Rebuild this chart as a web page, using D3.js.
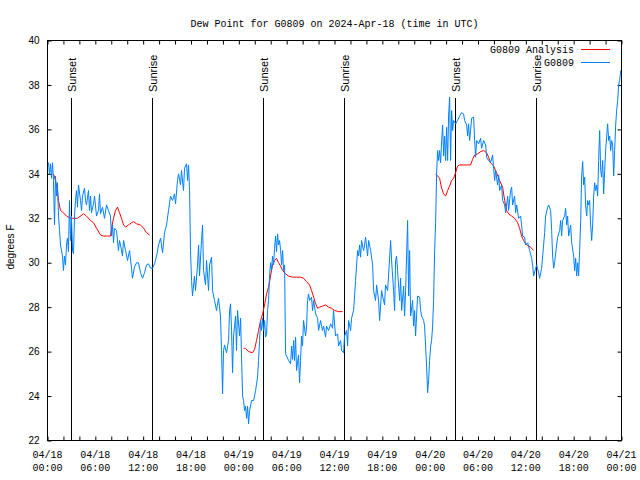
<!DOCTYPE html>
<html><head><meta charset="utf-8">
<script src="https://cdn.jsdelivr.net/npm/d3@7"></script>
<style>body{margin:0;background:#fff}</style>
</head><body><svg id="c" width="640" height="480"></svg>
<script>
const title = "Dew Point for G0809 on 2024-Apr-18 (time in UTC)";
const yLabel = "degrees F";
const seriesNames = ["G0809 Analysis", "G0809"];
const seriesColors = ["#ff0000", "#0080ff"];
const startUTC = Date.UTC(2024, 3, 18, 0, 0);
const xDomainHours = [0, 72];
const yDomain = [22, 40];
const yTicks = [22, 24, 26, 28, 30, 32, 34, 36, 38, 40];
const xLabelHours = [0, 6, 12, 18, 24, 30, 36, 42, 48, 54, 60, 66, 72];
const xMinorHours = d3.range(0, 73, 2);
const eventHours = [2.92, 13.17, 27.0, 37.17, 51.1, 61.27];
const eventLabels = ["Sunset", "Sunrise", "Sunset", "Sunrise", "Sunset", "Sunrise"];

// observed [hour offset, dew point F]
const observed = [
[0,34.4],[0.13,34.5],[0.25,34.0],[0.38,34.45],[0.5,33.8],[0.63,34.5],[0.75,33.7],[0.88,31.7],[1.0,33.9],[1.13,33.0],
[1.25,33.6],[1.38,32.1],[1.51,31.45],[1.63,30.8],[1.88,30.3],[2.0,29.65],[2.13,30.3],[2.26,29.9],[2.38,30.8],[2.5,31.1],
[2.63,30.5],[2.76,32.8],[2.89,31.0],[3.0,32.1],[3.14,30.55],[3.26,30.4],[3.39,32.1],[3.51,32.8],[3.64,33.25],[3.76,32.5],
[3.89,33.5],[4.14,32.8],[4.27,32.35],[4.39,33.0],[4.64,33.35],[4.77,32.8],[4.89,32.6],[5.14,33.25],[5.27,32.35],[5.4,33.0],
[5.52,32.25],[5.77,32.65],[5.9,33.0],[6.15,32.1],[6.4,32.35],[6.52,33.1],[6.65,32.2],[6.9,32.5],[7.15,32.0],[7.4,32.6],
[7.65,32.35],[7.9,32.1],[8.03,31.2],[8.16,31.7],[8.28,30.9],[8.4,31.55],[8.66,31.45],[8.9,30.55],[9.03,31.0],[9.16,30.8],
[9.4,30.3],[9.54,31.0],[9.79,30.55],[10.04,30.1],[10.29,30.55],[10.54,29.75],[10.66,29.3],[10.9,29.8],[11.17,30.0],[11.42,30.0],
[11.67,29.55],[11.92,29.3],[12.17,29.55],[12.42,29.9],[12.67,29.95],[12.92,29.75],[13.17,29.75],[13.43,29.95],[13.68,30.3],[13.93,30.8],
[14.18,31.1],[14.43,30.45],[14.68,31.35],[14.93,31.7],[15.18,32.35],[15.43,33.0],[15.68,32.8],[15.93,33.1],[16.06,32.65],[16.31,33.7],
[16.44,34.0],[16.69,33.5],[16.81,34.15],[17.06,33.25],[17.19,34.25],[17.44,34.45],[17.57,33.7],[17.69,34.4],[17.82,33.25],[17.94,30.55],
[18.07,29.2],[18.19,28.5],[18.44,29.4],[18.57,28.75],[18.82,29.9],[18.95,30.8],[19.07,29.4],[19.32,31.0],[19.45,31.7],[19.57,29.65],
[19.82,29.0],[19.95,30.1],[20.2,28.75],[20.33,29.9],[20.58,30.25],[20.7,28.75],[20.95,28.3],[21.2,27.85],[21.45,28.4],[21.7,27.6],
[21.83,26.05],[21.96,24.1],[22.08,26.05],[22.21,26.3],[22.46,25.95],[22.71,26.5],[22.84,27.85],[22.96,28.15],[23.09,26.95],[23.21,25.05],
[23.34,26.7],[23.59,27.6],[23.71,26.05],[23.84,27.85],[24.09,26.7],[24.22,27.5],[24.34,25.8],[24.47,24.0],[24.59,23.8],[24.72,23.35],
[24.84,23.55],[24.97,23.0],[25.1,23.55],[25.22,22.75],[25.35,23.35],[25.6,23.8],[25.85,23.8],[25.97,24.0],[26.1,24.25],[26.35,24.85],
[26.47,25.6],[26.6,26.5],[26.73,27.4],[26.85,26.95],[26.98,27.5],[27.1,26.95],[27.23,27.4],[27.35,26.65],[27.48,26.8],[27.6,27.85],
[27.73,28.3],[27.85,29.4],[27.98,30.0],[28.1,29.65],[28.23,30.3],[28.36,29.9],[28.48,30.65],[28.61,31.2],[28.73,30.5],[28.86,31.3],
[28.98,30.8],[29.11,31.0],[29.24,30.55],[29.36,29.9],[29.49,30.55],[29.61,29.65],[29.74,29.9],[29.86,25.9],[29.99,25.8],[30.24,25.6],
[30.49,25.45],[30.62,26.25],[30.74,25.65],[30.87,26.5],[30.99,25.6],[31.12,26.65],[31.24,25.15],[31.49,25.85],[31.62,24.6],[31.74,25.6],
[31.87,26.7],[31.99,26.25],[32.12,27.4],[32.37,26.7],[32.5,27.15],[32.62,28.3],[32.75,28.6],[32.87,28.3],[33.12,28.45],[33.25,27.85],
[33.38,28.3],[33.63,27.7],[33.88,27.5],[34.0,26.95],[34.25,27.4],[34.5,26.95],[34.63,27.15],[34.88,26.65],[35.0,27.15],[35.26,26.95],
[35.51,27.25],[35.76,27.05],[35.88,27.85],[36.13,26.7],[36.39,26.8],[36.51,26.25],[36.76,26.5],[36.89,26.05],[37.14,25.95],[37.26,26.7],
[37.52,26.95],[37.64,26.25],[37.77,27.4],[38.02,26.95],[38.14,27.5],[38.39,27.85],[38.52,28.5],[38.64,29.2],[38.77,29.9],[38.9,30.55],
[39.02,30.3],[39.15,30.8],[39.27,30.25],[39.4,31.0],[39.65,30.55],[39.77,30.8],[39.9,31.15],[40.15,30.3],[40.28,31.0],[40.53,30.55],
[40.78,29.9],[40.9,28.75],[41.15,28.3],[41.28,29.0],[41.53,28.3],[41.66,27.4],[41.91,28.75],[42.03,28.5],[42.28,28.1],[42.4,29.0],
[42.66,28.75],[42.78,29.4],[43.04,31.0],[43.16,30.1],[43.41,28.75],[43.54,27.85],[43.66,30.1],[43.79,30.3],[43.91,29.65],[44.17,28.3],
[44.29,29.3],[44.42,27.85],[44.67,28.95],[44.79,27.6],[44.92,28.75],[45.17,31.9],[45.3,28.5],[45.42,30.55],[45.55,27.6],[45.8,28.3],
[45.92,27.15],[46.05,27.85],[46.17,26.7],[46.42,28.5],[46.68,28.45],[46.8,27.85],[46.93,27.6],[47.18,27.4],[47.3,27.15],[47.43,26.25],
[47.55,25.35],[47.68,24.15],[47.8,24.7],[47.93,25.6],[48.06,26.25],[48.18,26.5],[48.31,27.15],[48.43,28.3],[48.56,30.55],[48.68,31.75],
[48.81,34.0],[48.93,35.05],[49.06,34.6],[49.18,35.05],[49.31,34.5],[49.44,35.5],[49.56,36.2],[49.69,34.8],[49.81,35.7],[49.94,34.6],
[50.06,36.1],[50.19,34.6],[50.31,36.6],[50.44,37.45],[50.56,34.6],[50.69,36.85],[50.82,35.95],[50.94,36.4],[51.19,36.25],[51.44,36.4],
[51.69,36.6],[51.94,36.75],[52.19,36.7],[52.32,36.4],[52.57,36.2],[52.7,35.7],[52.82,36.25],[52.95,35.5],[53.07,35.95],[53.2,36.5],
[53.45,36.55],[53.58,35.5],[53.7,34.75],[53.83,35.5],[54.08,35.35],[54.33,35.6],[54.45,35.15],[54.71,35.5],[54.96,35.3],[55.08,34.75],
[55.33,34.6],[55.58,34.5],[55.83,34.85],[55.96,34.25],[56.09,33.7],[56.21,34.15],[56.46,33.5],[56.59,33.95],[56.71,33.25],[56.96,33.5],
[57.09,32.8],[57.34,32.6],[57.47,32.25],[57.72,33.0],[57.84,32.35],[58.09,33.25],[58.22,33.4],[58.34,32.6],[58.59,33.0],[58.72,32.25],
[58.85,32.6],[59.1,32.0],[59.35,32.1],[59.47,31.7],[59.6,31.2],[59.85,31.15],[59.97,30.8],[60.23,30.9],[60.48,30.55],[60.73,30.2],
[60.85,29.9],[60.98,29.4],[61.23,29.75],[61.36,29.9],[61.61,29.55],[61.73,29.3],[61.98,29.75],[62.23,30.8],[62.36,31.35],[62.48,32.1],
[62.74,32.5],[62.86,32.6],[63.11,32.35],[63.24,31.45],[63.36,30.3],[63.49,29.75],[63.61,30.0],[63.86,30.8],[63.99,31.15],[64.24,31.45],
[64.37,31.9],[64.49,31.2],[64.62,31.9],[64.87,32.1],[64.99,32.45],[65.12,31.7],[65.24,32.1],[65.37,31.2],[65.62,31.7],[65.75,30.9],
[66.0,30.3],[66.12,29.65],[66.25,30.2],[66.37,29.4],[66.5,30.0],[66.62,29.4],[66.75,30.55],[66.88,31.9],[67.0,33.9],[67.13,34.55],
[67.25,33.5],[67.38,33.85],[67.5,32.6],[67.63,32.1],[67.75,32.8],[67.88,32.6],[68.0,32.8],[68.13,31.7],[68.26,31.0],[68.38,31.7],
[68.51,33.0],[68.63,33.6],[68.76,33.25],[68.88,33.5],[69.01,33.0],[69.13,34.6],[69.26,35.95],[69.39,34.15],[69.51,33.85],[69.64,34.6],
[69.76,33.1],[69.89,34.15],[70.01,35.05],[70.14,35.7],[70.26,36.25],[70.39,35.5],[70.52,35.7],[70.64,35.05],[70.77,35.5],[70.89,35.3],
[71.02,33.9],[71.14,35.05],[71.27,36.2],[71.39,36.85],[71.52,37.3],[71.64,38.0],[71.77,38.2],[71.9,38.65]
];

// analysis [hour offset, dew point F]; null = gap
const analysis = [
[0.75,34.0],[1.0,33.7],[1.25,33.25],[1.38,32.8],[1.63,32.35],[2.0,32.25],[2.38,32.1],[2.89,32.0],[3.39,32.0],[3.76,32.0],
[4.14,32.1],[4.52,32.2],[4.89,32.1],[5.4,31.9],[5.77,31.8],[6.15,31.55],[6.65,31.25],[7.03,31.2],[7.53,31.2],[7.9,31.2],
[8.03,31.55],[8.28,32.0],[8.53,32.35],[8.78,32.5],[9.03,32.25],[9.28,32.0],[9.54,31.7],[9.79,31.6],[10.16,31.7],[10.54,31.8],
[10.79,31.85],[11.17,31.75],[11.67,31.7],[12.05,31.55],[12.42,31.35],[12.8,31.25],
null,
[24.59,26.15],[24.84,26.15],[25.22,26.0],[25.72,25.95],[25.97,26.1],[26.22,26.5],[26.47,26.95],[26.73,27.4],[26.98,27.7],[27.23,28.1],
[27.48,28.6],[27.73,28.9],[27.98,29.4],[28.23,29.9],[28.48,30.1],[28.73,30.2],[28.98,30.0],[29.24,29.85],[29.49,29.65],[29.86,29.5],
[30.24,29.4],[30.74,29.35],[31.24,29.35],[31.74,29.35],[32.12,29.3],[32.5,29.15],[32.87,29.0],[33.12,28.75],[33.38,28.45],[33.63,28.15],
[33.88,27.95],[34.13,28.0],[34.5,28.05],[34.88,28.1],[35.26,28.0],[35.63,27.95],[36.01,27.85],[36.51,27.8],[37.01,27.8],
null,
[48.68,34.0],[48.93,33.9],[49.18,33.8],[49.44,33.35],[49.69,33.1],[49.94,33.0],[50.19,33.25],[50.44,33.45],[50.69,33.7],[50.94,33.8],
[51.19,34.05],[51.44,34.35],[51.69,34.4],[52.19,34.4],[52.7,34.4],[53.07,34.4],[53.32,34.65],[53.58,34.85],[53.95,34.9],[54.33,35.0],
[54.71,35.05],[55.08,34.95],[55.33,34.75],[55.58,34.5],[55.96,34.35],[56.33,34.05],[56.71,33.7],[57.09,33.4],[57.34,32.8],[57.59,32.35],
[57.84,32.2],[58.22,32.1],[58.59,32.0],[58.97,31.8],[59.22,31.55],[59.47,31.2],[59.72,31.0],[59.97,30.85],[60.35,30.75],[60.6,30.7],
[60.98,30.55]
];

const H = 3600e3;
const toDate = h => new Date(startUTC + h * H);
const svg = d3.select("#c");
const L = 47.5, R = 621.5, T = 40.5, B = 440.5;
const x = d3.scaleUtc().domain(xDomainHours.map(toDate)).range([L, R]);
const y = d3.scaleLinear().domain(yDomain).range([B, T]);
const mono = "'Liberation Mono', 'DejaVu Sans Mono', monospace";
const sans = "'Liberation Sans', Arial, sans-serif";

// title
svg.append("text").attr("x", (L + R) / 2).attr("y", 27).attr("text-anchor", "middle")
  .style("font-family", mono).style("font-size", "10px").text(title);

// ticks
const minorDates = xMinorHours.map(toDate);
const styleAxis = g => { g.select(".domain").remove(); g.selectAll("line").attr("stroke", "#000"); };
svg.append("g").attr("transform", `translate(0,${B})`)
  .call(d3.axisBottom(x).tickValues(minorDates).tickSizeInner(-4).tickSizeOuter(0).tickFormat(""))
  .call(styleAxis);
svg.append("g").attr("transform", `translate(0,${T})`)
  .call(d3.axisTop(x).tickValues(minorDates).tickSizeInner(-4).tickSizeOuter(0).tickFormat(""))
  .call(styleAxis);
svg.append("g").attr("transform", `translate(${L},0)`)
  .call(d3.axisLeft(y).tickValues(yTicks).tickSizeInner(-4).tickSizeOuter(0).tickPadding(8).tickFormat(d3.format("d")))
  .call(styleAxis)
  .call(g => g.selectAll("text").style("font-family", sans).style("font-size", "10px").attr("fill", "#000"));
svg.append("g").attr("transform", `translate(${R},0)`)
  .call(d3.axisRight(y).tickValues(yTicks).tickSizeInner(-4).tickSizeOuter(0).tickFormat(""))
  .call(styleAxis);

// x labels
const fmtD = d3.utcFormat("%m/%d"), fmtT = d3.utcFormat("%H:%M");
const xl = svg.append("g").style("font-family", mono).style("font-size", "10px").attr("text-anchor", "middle");
xLabelHours.map(toDate).forEach(d => {
  xl.append("text").attr("x", x(d)).attr("y", 458).text(fmtD(d));
  xl.append("text").attr("x", x(d)).attr("y", 471).text(fmtT(d));
});

// y label
svg.append("text").attr("transform", "translate(14,247) rotate(-90)").attr("text-anchor", "middle")
  .style("font-family", sans).style("font-size", "10px").text(yLabel);

// events
eventHours.forEach((h, i) => {
  const xx = Math.round(x(toDate(h))) + 0.5;
  svg.append("line").attr("x1", xx).attr("x2", xx).attr("y1", 98).attr("y2", B).attr("stroke", "#000");
  svg.append("text").attr("transform", `translate(${xx + 4.5},92) rotate(-90)`).attr("text-anchor", "start")
    .style("font-family", sans).style("font-size", "11px").text(eventLabels[i]);
});

// series
const line = d3.line().defined(d => d != null).x(d => x(toDate(d[0]))).y(d => y(d[1]));
svg.append("path").datum(analysis).attr("d", line).attr("fill", "none").attr("stroke", seriesColors[0]).attr("stroke-width", 1);
svg.append("path").datum(observed).attr("d", line).attr("fill", "none").attr("stroke", seriesColors[1]).attr("stroke-width", 1);

// frame
svg.append("rect").attr("x", L).attr("y", T).attr("width", R - L).attr("height", B - T)
  .attr("fill", "none").attr("stroke", "#000");

// legend
const lg = svg.append("g").style("font-family", mono).style("font-size", "10px");
seriesNames.forEach((n, i) => {
  const yy = 53 + i * 13;
  lg.append("text").attr("x", 574).attr("y", yy).attr("text-anchor", "end").text(n);
  lg.append("line").attr("x1", 581).attr("x2", 610).attr("y1", yy - 3.5).attr("y2", yy - 3.5).attr("stroke", seriesColors[i]);
});
</script></body></html>
